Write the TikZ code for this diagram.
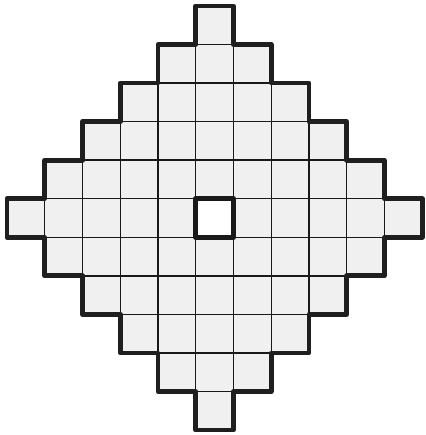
\documentclass[tikz,border=0pt]{standalone}
\usepackage{tikz}

\begin{document}
\begin{tikzpicture}[
            x=0.754cm, y=0.77cm,
            line join=round,
            cell/.style={fill=black!6, draw=black!90, line width=0.8pt},
            rim/.style={draw=black!88, line width=2.7pt},
            hole/.style={fill=white, draw=black!90, line width=2.8pt}
        ]
            \useasboundingbox (-0.186,-0.13) rectangle (11.088,11.156);

            % Cells, row by row
            \foreach \r in {0,...,10} {
                \pgfmathtruncatemacro{\w}{5-abs(\r-5)}
                \pgfmathtruncatemacro{\lo}{5-\w}
                \pgfmathtruncatemacro{\hi}{5+\w}
                \foreach \c in {\lo,...,\hi}
                    \draw[cell] (\c,\r) rectangle ++(1,1);
            }

            % Centre square
            \draw[hole] (5,5) rectangle (6,6);

            % Staircase outline
            \draw[rim] (5,11)
                \foreach \i in {1,...,6} { -- ++(1,0) -- ++(0,-1) }
                \foreach \i in {1,...,5} { -- ++(-1,0) -- ++(0,-1) }
                -- ++(-1,0)
                \foreach \i in {1,...,5} { -- ++(0,1) -- ++(-1,0) }
                -- ++(0,1)
                \foreach \i in {1,...,5} { -- ++(1,0) -- ++(0,1) }
                -- cycle;
        \end{tikzpicture}
\end{document}
